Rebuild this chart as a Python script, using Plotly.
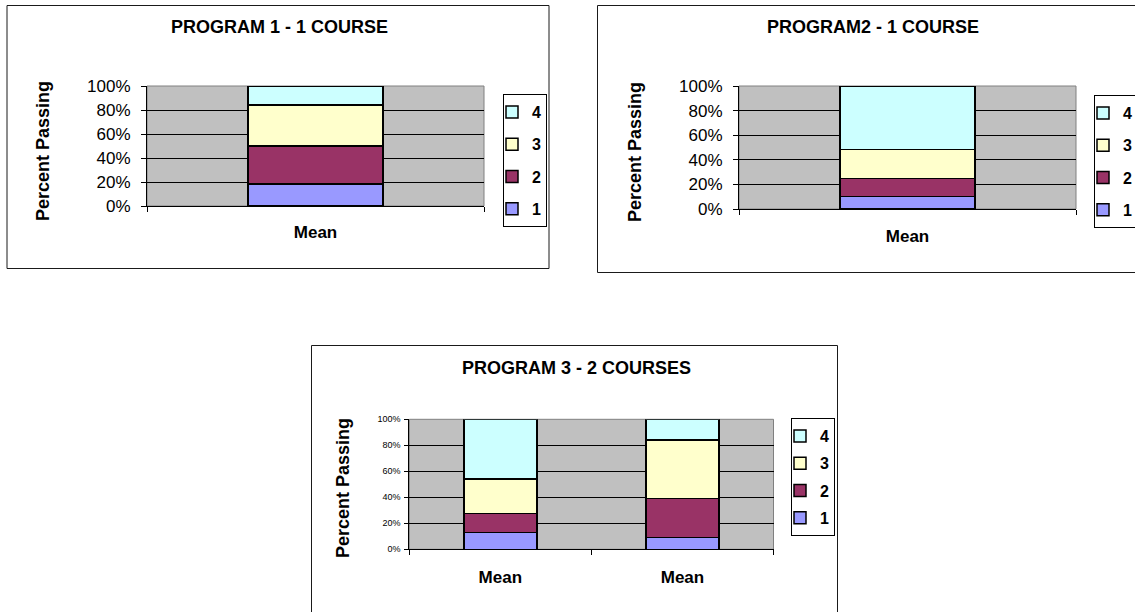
import plotly.graph_objects as go

# ---- data: percent of students at each level, per program ----
levels = ["1", "2", "3", "4"]
level_colors = ["#9999FF", "#993366", "#FFFFCC", "#CCFFFF"]

p1_categories = ["Mean"]
p1_level1 = [18.5]
p1_level2 = [31.5]
p1_level3 = [34.0]
p1_level4 = [16.0]

p2_categories = ["Mean"]
p2_level1 = [10.0]
p2_level2 = [15.0]
p2_level3 = [23.5]
p2_level4 = [51.5]

p3_categories = ["Mean", "Mean"]
p3_level1 = [13.0, 9.0]
p3_level2 = [14.5, 30.0]
p3_level3 = [26.5, 45.0]
p3_level4 = [46.0, 16.0]

titles = ["PROGRAM 1 - 1 COURSE", "PROGRAM2 - 1 COURSE", "PROGRAM 3 - 2 COURSES"]
y_title = "Percent Passing"
y_ticks = [0, 20, 40, 60, 80, 100]
y_ticktext = [f"{v}%" for v in y_ticks]

# ---- page geometry (pixels) ----
W, H = 1135, 612
FONT = "Arial, 'Liberation Sans', sans-serif"


def px(x):
    return x / W


def py(y):
    return 1 - y / H


panels = [
    dict(cats=p1_categories, series=[p1_level1, p1_level2, p1_level3, p1_level4],
         plot=(147, 484, 86, 206), box=(7, 549, 5.5, 268.5), title_xy=(279, 27),
         ytitle_xy=(43, 151), legend_xy=(503, 94), tick_size=17, tick_len=5,
         standoff=7, legend_gap=8.5, cat_len=11),
    dict(cats=p2_categories, series=[p2_level1, p2_level2, p2_level3, p2_level4],
         plot=(739, 1076, 86, 209), box=(597.5, 1150, 5.5, 272.5), title_xy=(873, 27),
         ytitle_xy=(635, 152), legend_xy=(1094, 95), tick_size=17, tick_len=5,
         standoff=7, legend_gap=8.5, cat_len=12),
    dict(cats=p3_categories, series=[p3_level1, p3_level2, p3_level3, p3_level4],
         plot=(409.3, 773.5, 419.3, 549.3), box=(311.5, 837.5, 345.5, 640), title_xy=(576, 368),
         ytitle_xy=(343, 488), legend_xy=(791, 418), tick_size=9, tick_len=4,
         standoff=2, legend_gap=3.5, cat_len=12),
]

fig = go.Figure()
layout = dict(
    width=W, height=H, margin=dict(l=0, r=0, t=0, b=0, autoexpand=False),
    paper_bgcolor="white", plot_bgcolor="#C0C0C0",
    barmode="stack", bargap=0.6,
    font=dict(family=FONT, color="black"),
    annotations=[], shapes=[],
)

for i, p in enumerate(panels):
    sfx = "" if i == 0 else str(i + 1)
    xa, ya, lg = "x" + sfx, "y" + sfx, "legend" + sfx
    n = len(p["cats"])
    xs = list(range(n))

    for rank, (lvl, vals, col) in enumerate(zip(levels, p["series"], level_colors)):
        fig.add_trace(go.Bar(
            x=xs, y=vals, name=lvl, xaxis=xa, yaxis=ya, legend=lg,
            legendgroup=f"{lg}-{lvl}", legendrank=1000 - rank, width=0.4,
            marker=dict(color=col, line=dict(color="black", width=1.5)),
            hoverinfo="skip",
        ))

    x0, x1, y0, y1 = p["plot"]
    layout["xaxis" + sfx] = dict(
        domain=[px(x0), px(x1)], anchor=ya, range=[-0.5, n - 0.5],
        tickmode="array", tickvals=xs, ticktext=p["cats"],
        ticks="outside", ticklen=p["cat_len"], tickcolor="rgba(0,0,0,0)",
        tickfont=dict(size=17, weight="bold", family=FONT),
        showline=True, linecolor="black", linewidth=1,
        showgrid=False, zeroline=False, fixedrange=True, automargin=False,
        minor=dict(tickmode="array", tickvals=[k - 0.5 for k in range(n + 1)],
                   ticks="outside", ticklen=5, tickwidth=1, tickcolor="black",
                   showgrid=False),
    )
    layout["yaxis" + sfx] = dict(
        domain=[py(y1), py(y0)], anchor=xa, range=[0, 100],
        tickmode="array", tickvals=y_ticks, ticktext=y_ticktext,
        ticks="outside", ticklen=p["tick_len"], tickcolor="black",
        ticklabelstandoff=p["standoff"],
        tickfont=dict(size=p["tick_size"], family=FONT),
        showline=True, linecolor="black", linewidth=1,
        showgrid=True, gridcolor="black", gridwidth=1,
        zeroline=False, fixedrange=True, automargin=False,
    )

    lx, ly = p["legend_xy"]
    layout[lg] = dict(
        x=px(lx), y=py(ly), xanchor="left", yanchor="top",
        bgcolor="white", bordercolor="black", borderwidth=1,
        traceorder="grouped", tracegroupgap=p["legend_gap"],
        indentation=-12, itemclick=False, itemdoubleclick=False,
        font=dict(size=16, weight="bold", family=FONT),
    )

    # chart frame
    bx0, bx1, by0, by1 = p["box"]
    layout["shapes"].append(dict(
        type="rect", xref="paper", yref="paper",
        x0=px(bx0), x1=px(bx1), y0=py(by1), y1=py(by0),
        line=dict(color="#1a1a1a", width=1), fillcolor="rgba(0,0,0,0)", layer="below",
    ))
    # grey plot-area border
    layout["shapes"].append(dict(
        type="rect", xref=xa + " domain", yref=ya + " domain",
        x0=0, x1=1, y0=0, y1=1,
        line=dict(color="#808080", width=1), fillcolor="rgba(0,0,0,0)", layer="below",
    ))

    tx, ty = p["title_xy"]
    layout["annotations"].append(dict(
        text=titles[i], xref="paper", yref="paper", x=px(tx), y=py(ty),
        xanchor="center", yanchor="middle", showarrow=False,
        font=dict(size=18, weight="bold", family=FONT),
    ))
    yx, yy = p["ytitle_xy"]
    layout["annotations"].append(dict(
        text=y_title, xref="paper", yref="paper", x=px(yx), y=py(yy),
        xanchor="center", yanchor="middle", showarrow=False, textangle=-90,
        font=dict(size=18, weight="bold", family=FONT),
    ))

fig.update_layout(**layout)
fig.write_html("out.html", config=dict(displayModeBar=False))
